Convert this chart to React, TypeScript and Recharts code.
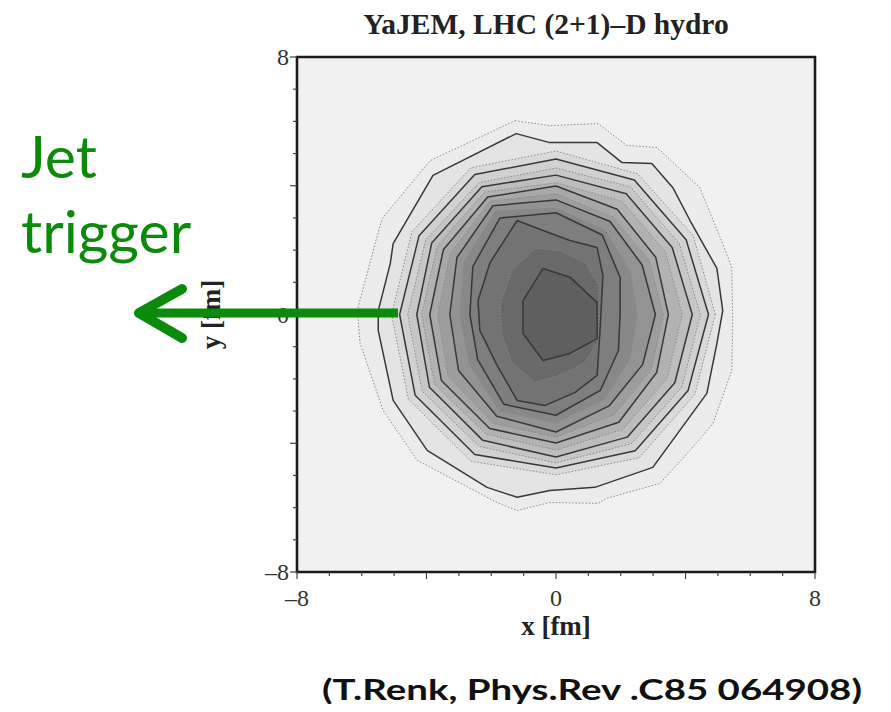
import React from 'react';
import { ScatterChart, Scatter, XAxis, YAxis, CartesianGrid, ReferenceArea } from 'recharts';

type Pt = [number, number];

// contour polygons in fm, outermost first
const level01: Pt[] = [
  [-1.27, 6.02], [-0.19, 5.87], [1.3, 5.93], [2.19, 5.25], [3.12, 5.19], [4.44, 3.94],
  [5.15, 2.2], [5.43, 1.46], [5.46, -0.19], [5.43, -1.74], [4.85, -3.39], [4.14, -4.22],
  [3.21, -5.25], [1.57, -5.71], [1.3, -5.87], [-0.19, -5.84], [-1.2, -6.09], [-1.82, -5.84],
  [-4.29, -4.53], [-5.34, -2.98], [-6.05, -0.9], [-6.14, 0.12], [-5.59, 2.2], [-5.37, 2.98],
  [-3.89, 4.78],
];
const level02: Pt[] = [
  [-1.23, 5.62], [-0.19, 5.34], [1.27, 5.34], [2.04, 4.72], [2.96, 4.69], [3.61, 3.94],
  [4.14, 2.92], [4.97, 1.43], [5.15, 0.12], [4.97, -0.9], [4.66, -2.45], [2.99, -4.75],
  [1.2, -5.37], [-0.19, -5.47], [-1.2, -5.68], [-2.13, -5.37], [-3.98, -4.22], [-5.03, -2.67],
  [-5.49, -0.5], [-5.49, 0.12], [-5.12, 1.58], [-5.03, 2.2], [-3.8, 4.32],
];
const level03: Pt[] = [
  [4.92, 0], [4.24, 2.45], [2.52, 4.37], [0, 5.08], [-2.63, 4.56], [-4.45, 2.57],
  [-5.08, 0], [-4.56, -2.63], [-2.63, -4.56], [0, -4.98], [2.57, -4.45], [4.29, -2.48],
];
const level04: Pt[] = [
  [4.71, 0], [4.02, 2.32], [2.42, 4.18], [0, 4.83], [-2.51, 4.35], [-4.23, 2.45],
  [-4.83, 0], [-4.35, -2.51], [-2.51, -4.35], [0, -4.77], [2.45, -4.23], [4.08, -2.36],
];
const level05: Pt[] = [
  [4.46, 0], [3.81, 2.2], [2.29, 3.97], [0, 4.55], [-2.37, 4.1], [-4.02, 2.32],
  [-4.58, 0], [-4.13, -2.39], [-2.37, -4.1], [0, -4.61], [2.32, -4.02], [3.89, -2.25],
];
const level06: Pt[] = [
  [4.21, 0], [3.59, 2.08], [2.17, 3.75], [0, 4.33], [-2.29, 3.97], [-3.84, 2.22],
  [-4.3, 0], [-3.91, -2.26], [-2.26, -3.91], [0, -4.43], [2.2, -3.81], [3.67, -2.12],
];
const level07: Pt[] = [
  [3.9, 0], [3.38, 1.95], [2.03, 3.52], [0, 4.09], [-2.2, 3.81], [-3.67, 2.12],
  [-4.15, 0], [-3.75, -2.17], [-2.15, -3.72], [0, -4.21], [2.06, -3.57], [3.43, -1.98],
];
const level08: Pt[] = [
  [3.47, 0], [3.08, 1.78], [1.89, 3.27], [0, 3.99], [-2.11, 3.65], [-3.48, 2.01],
  [-3.9, 0], [-3.54, -2.05], [-2.05, -3.54], [0, -3.99], [1.94, -3.35], [3.11, -1.8],
];
const level09: Pt[] = [
  [3.31, 0], [2.89, 1.67], [1.75, 3.03], [0, 3.75], [-2.03, 3.52], [-3.27, 1.89],
  [-3.65, 0], [-3.33, -1.92], [-1.95, -3.38], [0, -3.81], [1.8, -3.11], [2.95, -1.71],
];
const level10: Pt[] = [
  [3.07, 0], [2.66, 1.54], [1.67, 2.89], [0, 3.56], [-1.95, 3.38], [-3.06, 1.77],
  [-3.28, 0], [-3.01, -1.74], [-1.83, -3.16], [0, -3.65], [1.64, -2.84], [2.68, -1.55],
];
const level11: Pt[] = [
  [2.51, 0], [2.3, 1.33], [1.52, 2.62], [0, 3.31], [-1.86, 3.22], [-2.84, 1.64],
  [-2.97, 0], [-2.68, -1.55], [-1.74, -3.01], [0, -3.37], [1.52, -2.62], [2.3, -1.33],
];
const level12: Pt[] = [
  [1.98, 0], [1.98, 1.15], [1.43, 2.47], [0, 3.16], [-1.73, 3.0], [-2.57, 1.49],
  [-2.66, 0], [-2.42, -1.4], [-1.61, -2.79], [0, -3.13], [1.37, -2.36], [1.93, -1.12],
];
const level13: Pt[] = [
  [-2.41, 0.43], [-2.04, 1.61], [-1.2, 2.92], [-0.4, 2.61], [0.43, 2.3], [1.27, 2.08],
  [1.45, 1.21], [1.36, -0.5], [1.27, -1.89], [0.59, -2.42], [-0.34, -2.83], [-1.2, -2.67],
  [-1.82, -1.58], [-2.35, -0.5],
];
const level14: Pt[] = [
  [-1.73, 0.28], [-1.36, 1.37], [-0.65, 2.05], [0.12, 1.99], [0.9, 1.61], [1.33, 0.9],
  [1.3, -0.81], [0.9, -1.49], [0.12, -1.89], [-0.65, -2.11], [-1.36, -1.49], [-1.67, -0.65],
];
const level15: Pt[] = [
  [-1.02, 0.43], [-0.4, 1.43], [0.43, 1.16], [1.27, 0.37], [1.27, -0.75], [0.43, -1.21],
  [-0.4, -1.43], [-1.02, -0.59],
];

const levels = [
  level01, level02, level03, level04, level05, level06, level07, level08,
  level09, level10, level11, level12, level13, level14, level15,
];
const levelFills = [
  '#ececec', '#e4e4e4', '#dadada', '#d1d1d1', '#c7c7c7', '#bdbdbd', '#b2b2b2', '#a8a8a8',
  '#9d9d9d', '#939393', '#888888', '#7e7e7e', '#737373', '#696969', '#5f5f5f',
];
// labelled (solid) contours; the rest are dotted
const solidLevels = [2, 4, 6, 8, 10, 12, 13, 15];

const axisTicks = [-8, -7, -6, -5, -4, -3, -2, -1, 0, 1, 2, 3, 4, 5, 6, 7, 8];
const labelledTicks = [-8, 0, 8];

const serif = '"Liberation Serif", "Times New Roman", serif';
const green = '#0b8a0b';

const fmt = (v: number) => (v < 0 ? `\u2013${Math.abs(v)}` : `${v}`);

const XTick = ({ x, y, payload }: any) => {
  const v = payload.value;
  return (
    <g>
      <line x1={x} x2={x} y1={y} y2={y + (v % 4 === 0 ? 7 : 4)} stroke="#444" strokeWidth={1.2} />
      {labelledTicks.includes(v) && (
        <text x={x} y={y + 34} textAnchor="middle" fontFamily={serif} fontSize={24} fill="#333">
          {fmt(v)}
        </text>
      )}
    </g>
  );
};

const YTick = ({ x, y, payload }: any) => {
  const v = payload.value;
  return (
    <g>
      <line x1={x} x2={x - (v % 4 === 0 ? 7 : 4)} y1={y} y2={y} stroke="#444" strokeWidth={1.2} />
      {labelledTicks.includes(v) && (
        <text x={x - 8} y={y + 8} textAnchor="end" fontFamily={serif} fontSize={24} fill="#333">
          {fmt(v)}
        </text>
      )}
    </g>
  );
};

const noDot = () => <g />;

const polygonLine = (fill: string, solid: boolean) => (props: any) => {
  const pts: { x: number; y: number }[] = props.points || [];
  if (!pts.length) return <g />;
  const d = pts.map((p, i) => `${i ? 'L' : 'M'}${p.x},${p.y}`).join(' ') + ' Z';
  return (
    <path
      d={d}
      fill={fill}
      stroke={solid ? '#383838' : '#8a8a8a'}
      strokeWidth={solid ? 1.5 : 1}
      strokeDasharray={solid ? undefined : '1.5 1.8'}
      strokeLinejoin="round"
    />
  );
};

export default function App() {
  return (
    <div style={{ position: 'relative', width: 891, height: 712, margin: -8, background: '#fff' }}>
      <ScatterChart width={891} height={712} margin={{ top: 57, right: 76, bottom: 60, left: 197 }}>
        <CartesianGrid fill="#f1f1f1" horizontal={false} vertical={false} />
        <XAxis
          type="number"
          dataKey="x"
          domain={[-8, 8]}
          ticks={axisTicks}
          interval={0}
          allowDataOverflow
          height={80}
          axisLine={false}
          tickLine={false}
          tickSize={0}
          tickMargin={0}
          tick={<XTick />}
          label={{
            value: 'x [fm]',
            position: 'insideBottom',
            offset: 17,
            style: { fontFamily: serif, fontWeight: 700, fontSize: 27, fill: '#222' },
          }}
        />
        <YAxis
          type="number"
          dataKey="y"
          domain={[-8, 8]}
          ticks={axisTicks}
          interval={0}
          allowDataOverflow
          width={100}
          axisLine={false}
          tickLine={false}
          tickSize={0}
          tickMargin={0}
          tick={<YTick />}
          label={{
            value: 'y [fm]',
            angle: -90,
            position: 'insideLeft',
            offset: 13,
            style: { fontFamily: serif, fontWeight: 700, fontSize: 27, fill: '#222', textAnchor: 'middle' },
          }}
        />
        {levels.map((lv, i) => (
          <Scatter
            key={`level-${i + 1}`}
            data={lv.map(([x, y]) => ({ x, y }))}
            line={polygonLine(levelFills[i], solidLevels.includes(i + 1))}
            shape={noDot}
            isAnimationActive={false}
          />
        ))}
        <ReferenceArea x1={-8} x2={8} y1={-8} y2={8} fill="none" stroke="#1a1a1a" strokeWidth={2.6} ifOverflow="visible" />
      </ScatterChart>

      <svg width={891} height={712} style={{ position: 'absolute', left: 0, top: 0, pointerEvents: 'none' }}>
        <line x1={155} y1={3} x2={887} y2={3} stroke="#cfcfcf" strokeWidth={1.5} />
        <text x={546} y={34} textAnchor="middle" fontFamily={serif} fontWeight={700} fontSize={29.5} fill="#222">
          YaJEM, LHC (2+1)–D hydro
        </text>
        <text x={21} y={178} fontFamily="Lato, sans-serif" fontSize={59} fill={green}>Jet</text>
        <text x={21} y={253} fontFamily="Lato, sans-serif" fontSize={59} fill={green}>trigger</text>
        <line x1={398} y1={313} x2={146} y2={313} stroke={green} strokeWidth={9} />
        <polyline
          points="182,289 139,313 182,338"
          fill="none"
          stroke={green}
          strokeWidth={10}
          strokeLinecap="round"
          strokeLinejoin="round"
        />
        <text x={322} y={700} fontFamily="Lato, sans-serif" fontWeight={700} fontSize={28} fill="#111" textLength={540} lengthAdjust="spacingAndGlyphs">
          (T.Renk, Phys.Rev .C85 064908)
        </text>
      </svg>
    </div>
  );
}
